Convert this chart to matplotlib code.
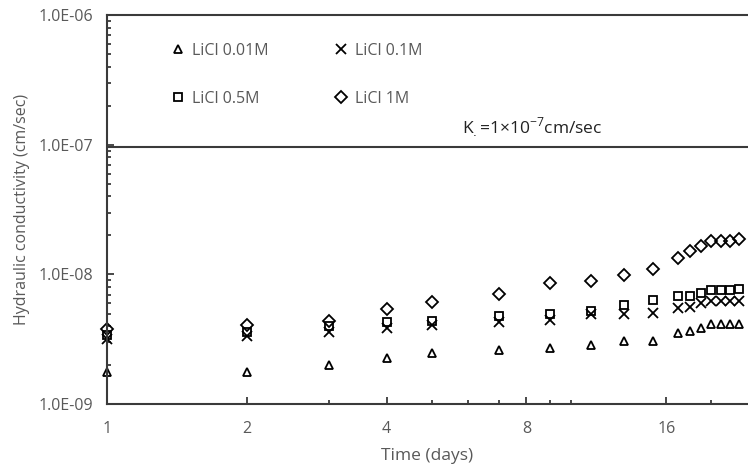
import matplotlib
matplotlib.use("Agg")
import matplotlib.pyplot as plt
from matplotlib.ticker import FixedLocator, NullFormatter, LogLocator

plt.rcParams['font.family'] = ['Open Sans', 'DejaVu Sans']

days = [1, 2, 3, 4, 5, 7, 9, 11, 13, 15, 17, 18, 19, 20, 21, 22, 23]
k_001 = [1.77e-9, 1.77e-9, 2.02e-9, 2.28e-9, 2.49e-9, 2.61e-9, 2.72e-9, 2.85e-9,
         3.06e-9, 3.06e-9, 3.55e-9, 3.67e-9, 3.90e-9, 4.12e-9, 4.12e-9, 4.12e-9, 4.12e-9]
k_01 = [3.17e-9, 3.34e-9, 3.61e-9, 3.85e-9, 4.06e-9, 4.31e-9, 4.44e-9, 4.94e-9,
        4.92e-9, 5.06e-9, 5.47e-9, 5.57e-9, 5.98e-9, 6.22e-9, 6.22e-9, 6.22e-9, 6.22e-9]
k_05 = [3.40e-9, 3.59e-9, 3.99e-9, 4.31e-9, 4.36e-9, 4.80e-9, 4.94e-9, 5.21e-9,
        5.80e-9, 6.34e-9, 6.80e-9, 6.80e-9, 7.21e-9, 7.57e-9, 7.57e-9, 7.57e-9, 7.70e-9]
k_1 = [3.79e-9, 4.06e-9, 4.39e-9, 5.40e-9, 6.15e-9, 7.13e-9, 8.61e-9, 8.88e-9,
       9.88e-9, 1.11e-8, 1.33e-8, 1.52e-8, 1.65e-8, 1.81e-8, 1.81e-8, 1.81e-8, 1.87e-8]
k_limit = 9.6e-8

x_major = [1, 2, 4, 8, 16]
x_minor = [3, 5, 6, 7, 9, 10, 20]
y_major = [1e-9, 1e-8, 1e-7, 1e-6]
y_labels = ["1.0E-09", "1.0E-08", "1.0E-07", "1.0E-06"]

grey = "#595959"
dark = "#3a3a3a"

fig = plt.figure(figsize=(7.48, 4.70), dpi=100)
ax = fig.add_axes([0.143, 0.140, 0.857, 0.828])

ax.set_xscale('log', base=2)
ax.set_yscale('log')
ax.set_xlim(1, 24)
ax.set_ylim(1e-9, 1e-6)

common = dict(linestyle='none', markerfacecolor='none', markeredgecolor='black',
              markeredgewidth=1.3, clip_on=False)
h1, = ax.plot(days, k_001, marker='^', markersize=6, label='LiCl 0.01M', **common)
h2, = ax.plot(days, k_01, marker='x', markersize=6.5, label='LiCl 0.1M', **common)
h3, = ax.plot(days, k_05, marker='s', markersize=6, label='LiCl 0.5M', **common)
h4, = ax.plot(days, k_1, marker='D', markersize=6, label='LiCl 1M', **common)

ax.axhline(k_limit, color=dark, linewidth=1.5)
ax.text(5.8, 1.36e-7, r"K$_{.}$=1×10$^{\mathregular{-7}}$cm/sec", fontsize=12.5,
        color='#222222', ha='left', va='center')

ax.xaxis.set_major_locator(FixedLocator(x_major))
ax.xaxis.set_minor_locator(FixedLocator(x_minor))
ax.set_xticklabels([str(v) for v in x_major])
ax.xaxis.set_minor_formatter(NullFormatter())
ax.yaxis.set_major_locator(FixedLocator(y_major))
ax.set_yticklabels(y_labels)
ax.yaxis.set_minor_locator(LogLocator(base=10, subs=range(2, 10)))
ax.yaxis.set_minor_formatter(NullFormatter())

ax.tick_params(axis='both', which='major', direction='in', length=5, width=1.3,
               color=dark, labelcolor=grey, labelsize=11.5)
ax.tick_params(axis='both', which='minor', direction='in', length=3, width=1.3, color=dark)
ax.tick_params(axis='y', which='major', pad=10)
ax.tick_params(axis='x', which='major', pad=12)

for s in ['left', 'bottom', 'top']:
    ax.spines[s].set_color(dark)
    ax.spines[s].set_linewidth(1.5)
ax.spines['right'].set_visible(False)

ax.set_xlabel("Time (days)", fontsize=12.5, color=grey, labelpad=8)
ax.set_ylabel("Hydraulic conductivity (cm/sec)", fontsize=11.5, color=grey, labelpad=6)

leg = ax.legend(handles=[h1, h3, h2, h4], ncol=2, loc='upper left',
                bbox_to_anchor=(0.077, 0.965), frameon=False, fontsize=11.5,
                labelspacing=2.0, columnspacing=4.1, handletextpad=0.44,
                handlelength=0.87)
for t in leg.get_texts():
    t.set_color(grey)

fig.savefig("out.png", dpi=100)
